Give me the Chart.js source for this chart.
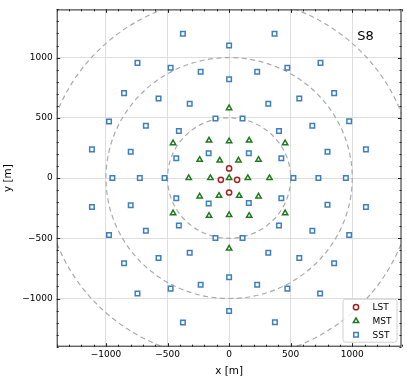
<!DOCTYPE html>
<html>
<head>
<meta charset="utf-8">
<script src="https://cdn.jsdelivr.net/npm/chart.js@4/dist/chart.umd.min.js"></script>
<style>
  html, body { margin: 0; padding: 0; background: #fff; }
  canvas { display: block; }
</style>
</head>
<body>
<canvas id="layoutChart" width="407" height="382"></canvas>
<script>
// Telescope positions [m]
const lstX = [0, -67, 65, 0];
const lstY = [80, -15, -15, -120];

const mstX = [0, -455, -163, 0, 163, 455, -239, -76, 76, 239, -328, -152, 0, 152, 328,
              -239, -82, 82, 239, -455, -163, 0, 163, 455, 0];
const mstY = [580, 290, 312, 305, 312, 290, 152, 146, 146, 152, 0, 0, 0, 0, 0,
              -152, -147, -147, -152, -291, -313, -307, -313, -291, -585];

const sstX = [
  -375, -744, -475, -231, -853, -573, -320, -975, -676, -408, -166, -1114, -799, -429, -111,
  369, 742, 473, 228, 853, 570, 318, 975, 676, 405, 160, 1111, 799, 424, 109,
  -1114, -799, -429, -166, -975, -676, -408, -853, -573, -320, -744, -475, -231, -375, -111,
  424, 160, 799, 1111, 405, 676, 975, 109, 318, 570, 853, 228, 473, 739, 372,
  -948, -725, -524, 522, 725, 948, 0, 0, 0, 0
];
const sstY = [
  1197, 956, 915, 882, 705, 661, 617, 470, 434, 390, 205, 238, 218, 164, 494,
  1197, 956, 915, 882, 705, 661, 617, 472, 434, 390, 205, 238, 218, 164, 494,
  -241, -225, -167, -211, -473, -437, -393, -708, -664, -620, -959, -918, -885, -1200, -497,
  -167, -208, -221, -241, -393, -437, -473, -497, -620, -664, -708, -885, -918, -959, -1197,
  0, 0, 0, 0, 0, 0, 1101, 820, -823, -1104
];

// Dashed reference circles [m]
const ringRadii = [500, 1000, 1500];

const tickValues = [-1000, -500, 0, 500, 1000];
const axisMin = -1400;
const axisMax = 1400;
const minorStep = 100;

const colors = { lst: '#a51d1d', mst: '#1f7a1f', sst: '#3f7fbf' };

function toPoints(xs, ys) {
  return xs.map((x, i) => ({ x: x, y: ys[i] }));
}

function fmtTick(v) {
  return v < 0 ? '\u2212' + Math.abs(v) : String(v);
}

// rings behind the markers
const ringsPlugin = {
  id: 'rings',
  beforeDatasetsDraw(chart) {
    const { ctx, chartArea, scales } = chart;
    const cx = scales.x.getPixelForValue(0);
    const cy = scales.y.getPixelForValue(0);
    ctx.save();
    ctx.beginPath();
    ctx.rect(chartArea.left, chartArea.top, chartArea.right - chartArea.left, chartArea.bottom - chartArea.top);
    ctx.clip();
    ctx.strokeStyle = '#aaaaaa';
    ctx.lineWidth = 1.2;
    ctx.setLineDash([5, 3.5]);
    ringRadii.forEach(r => {
      const rx = scales.x.getPixelForValue(r) - cx;
      const ry = cy - scales.y.getPixelForValue(r);
      ctx.beginPath();
      ctx.ellipse(cx, cy, rx, ry, 0, 0, Math.PI * 2);
      ctx.stroke();
    });
    ctx.restore();
  }
};

// frame, inward ticks, label, legend
const framePlugin = {
  id: 'frame',
  afterDraw(chart) {
    const { ctx, chartArea, scales } = chart;
    const { left, right, top, bottom } = chartArea;
    ctx.save();
    ctx.strokeStyle = '#222';
    ctx.lineWidth = 1;

    // ticks
    ctx.beginPath();
    for (let v = axisMin; v <= axisMax; v += minorStep) {
      const len = tickValues.includes(v) ? 3.5 : 2;
      const px = Math.round(scales.x.getPixelForValue(v)) + 0.5;
      const py = Math.round(scales.y.getPixelForValue(v)) + 0.5;
      ctx.moveTo(px, bottom); ctx.lineTo(px, bottom - len);
      ctx.moveTo(px, top); ctx.lineTo(px, top + len);
      ctx.moveTo(left, py); ctx.lineTo(left + len, py);
      ctx.moveTo(right, py); ctx.lineTo(right - len, py);
    }
    ctx.stroke();

    ctx.strokeRect(left + 0.5, top + 0.5, right - left - 1, bottom - top - 1);

    // layout name
    ctx.fillStyle = '#000';
    ctx.font = '13px "DejaVu Sans"';
    ctx.textAlign = 'center';
    ctx.textBaseline = 'middle';
    ctx.fillText('S8', right - 36, top + 27);

    // legend box
    const bw = 54, bh = 43;
    const bx = right - 5 - bw, by = bottom - 5 - bh;
    ctx.beginPath();
    ctx.roundRect(bx + 0.5, by + 0.5, bw, bh, 2.5);
    ctx.fillStyle = 'rgba(255,255,255,0.85)';
    ctx.fill();
    ctx.strokeStyle = '#d0d0d0';
    ctx.stroke();

    ctx.font = '9px "DejaVu Sans"';
    ctx.textAlign = 'left';
    chart.data.datasets.forEach((ds, i) => {
      const yy = by + 8.5 + i * 13.8;
      ctx.strokeStyle = ds.borderColor;
      ctx.fillStyle = ds.backgroundColor;
      ctx.lineWidth = ds.borderWidth;
      Chart.helpers.drawPoint(ctx, {
        pointStyle: ds.pointStyle,
        radius: ds.pointRadius,
        borderWidth: ds.borderWidth
      }, bx + 13.5, yy);
      ctx.fillStyle = '#000';
      ctx.fillText(ds.label, bx + 30, yy + 0.5);
    });
    ctx.restore();
  }
};

new Chart(document.getElementById('layoutChart'), {
  type: 'scatter',
  data: {
    datasets: [
      {
        label: 'LST',
        data: toPoints(lstX, lstY),
        pointStyle: 'circle',
        pointRadius: 2.6,
        borderWidth: 1.5,
        borderColor: colors.lst,
        backgroundColor: '#ffffff'
      },
      {
        label: 'MST',
        data: toPoints(mstX, mstY),
        pointStyle: 'triangle',
        pointRadius: 3.1,
        borderWidth: 1.5,
        borderColor: colors.mst,
        backgroundColor: '#ffffff'
      },
      {
        label: 'SST',
        data: toPoints(sstX, sstY),
        pointStyle: 'rect',
        pointRadius: 3.2,
        borderWidth: 1.5,
        borderColor: colors.sst,
        backgroundColor: '#ffffff'
      }
    ]
  },
  options: {
    responsive: false,
    animation: false,
    devicePixelRatio: 1,
    layout: { padding: { top: 5, right: 5, left: 0, bottom: 0 } },
    plugins: {
      legend: { display: false },
      tooltip: { enabled: false }
    },
    scales: {
      x: {
        type: 'linear',
        min: axisMin,
        max: axisMax,
        afterBuildTicks: scale => { scale.ticks = tickValues.map(v => ({ value: v })); },
        afterFit: scale => { scale.height = 35.3; },
        border: { display: false },
        grid: { color: '#dedede', lineWidth: 1, drawTicks: false },
        ticks: {
          padding: 3,
          color: '#000',
          font: { family: 'DejaVu Sans', size: 9 },
          maxRotation: 0,
          callback: v => fmtTick(v)
        },
        title: {
          display: true,
          text: 'x [m]',
          color: '#000',
          font: { family: 'DejaVu Sans', size: 10.4 },
          padding: { top: 4, bottom: 4 }
        }
      },
      y: {
        type: 'linear',
        min: axisMin,
        max: axisMax,
        afterBuildTicks: scale => { scale.ticks = tickValues.map(v => ({ value: v })); },
        afterFit: scale => { scale.width = 56.7; },
        border: { display: false },
        grid: { color: '#dedede', lineWidth: 1, drawTicks: false },
        ticks: {
          padding: 4,
          color: '#000',
          font: { family: 'DejaVu Sans', size: 9 },
          callback: v => fmtTick(v)
        },
        title: {
          display: true,
          text: 'y [m]',
          color: '#000',
          font: { family: 'DejaVu Sans', size: 10.4 },
          padding: { top: 2, bottom: 4 }
        }
      }
    }
  },
  plugins: [ringsPlugin, framePlugin]
});
</script>
</body>
</html>
